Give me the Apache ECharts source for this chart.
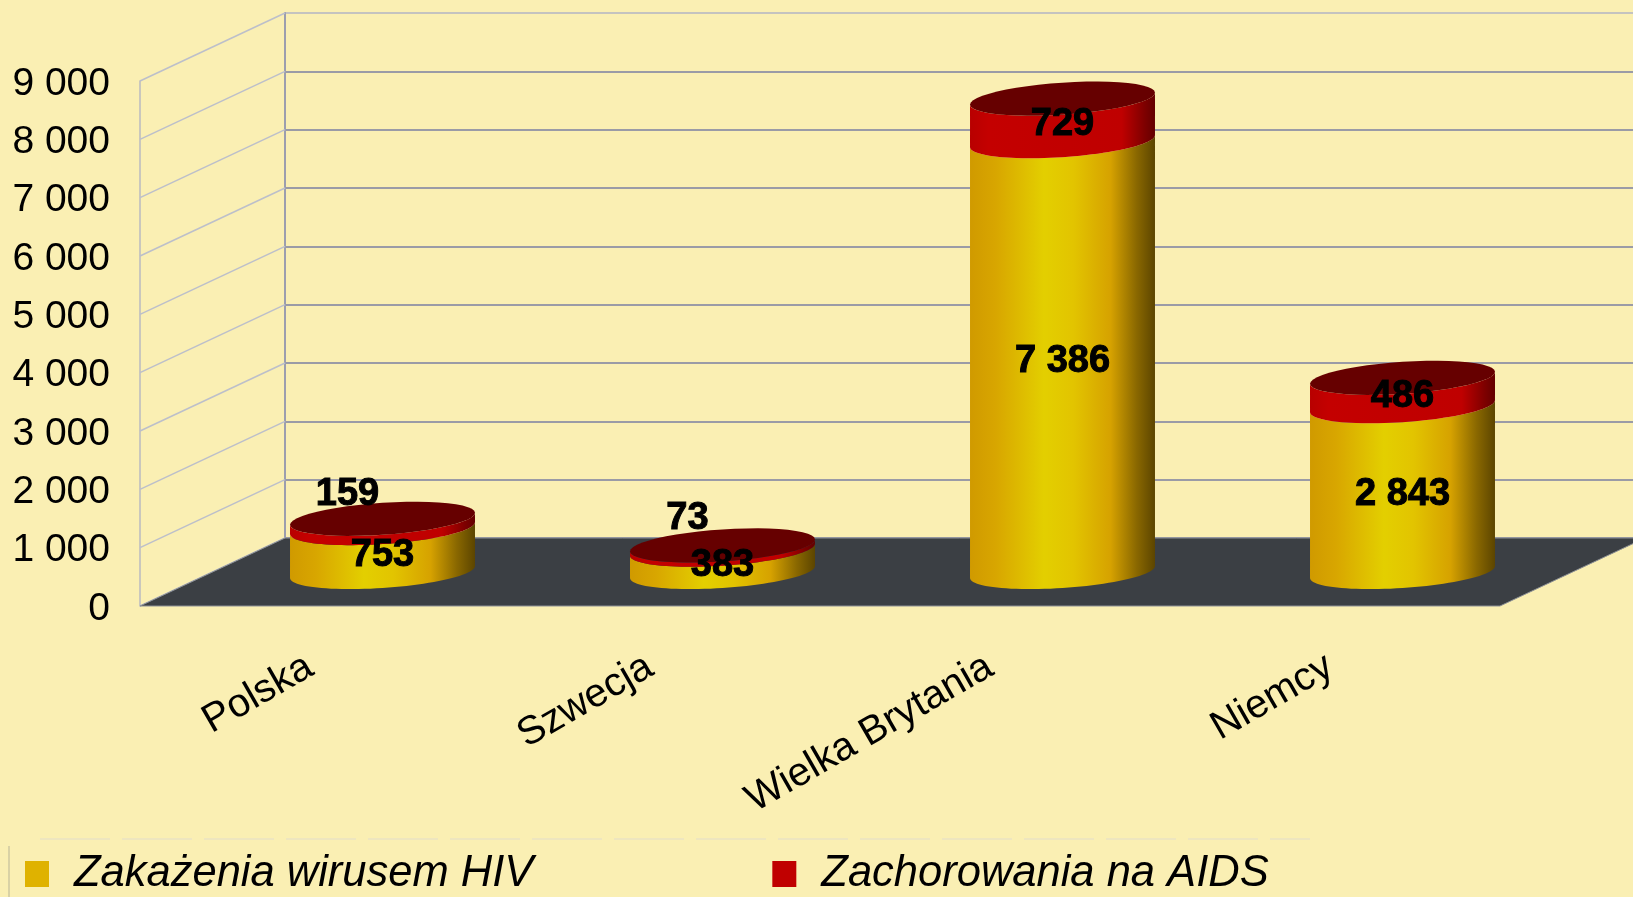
<!DOCTYPE html>
<html>
<head>
<meta charset="utf-8">
<title>HIV / AIDS</title>
<script src="https://cdn.jsdelivr.net/npm/echarts@6/dist/echarts.min.js"></script>
<style>
html, body { margin: 0; padding: 0; background: #faefb3; }
#chart { width: 1633px; height: 897px; }
</style>
</head>
<body>
<div id="chart"></div>
<script>
var categories = ['Polska', 'Szwecja', 'Wielka Brytania', 'Niemcy'];
var hivInfections = [753, 383, 7386, 2843];
var aidsCases = [159, 73, 729, 486];
var yTickValues = [0, 1000, 2000, 3000, 4000, 5000, 6000, 7000, 8000, 9000];
var yTickLabels = ['0', '1 000', '2 000', '3 000', '4 000', '5 000', '6 000', '7 000', '8 000', '9 000'];
var seriesNames = ['Zakażenia wirusem HIV', 'Zachorowania na AIDS'];

var FONT = '"Liberation Sans", Arial, sans-serif';
// przesuniecie tylnej sciany wzgledem przedniej krawedzi
var DEPTH_X = 145;
var DEPTH_Y = 68;
var BAR_SHARE = 0.544;
var CAP_B = 16;
var CAP_SKEW = 6;

var yellowSide = {
	type: 'linear', x: 0, y: 0, x2: 1, y2: 0,
	colorStops: [
		{ offset: 0, color: '#d09a00' },
		{ offset: 0.14, color: '#d8a600' },
		{ offset: 0.4, color: '#e3cf00' },
		{ offset: 0.56, color: '#e2c400' },
		{ offset: 0.76, color: '#d6a200' },
		{ offset: 0.9, color: '#8a6800' },
		{ offset: 1, color: '#5c4500' }
	]
};
var redSide = {
	type: 'linear', x: 0, y: 0, x2: 1, y2: 0,
	colorStops: [
		{ offset: 0, color: '#b80000' },
		{ offset: 0.1, color: '#c40000' },
		{ offset: 0.82, color: '#bf0000' },
		{ offset: 0.94, color: '#800000' },
		{ offset: 1, color: '#640000' }
	]
};

function formatValue(v) {
	return String(v).replace(/\B(?=(\d{3})+$)/g, ' ');
}

// luk elipsy podstawy, od t0 do t1
function arc(cx, cy, a, t0, t1) {
	var pts = [];
	for(var i = 0; i <= 48; i++) {
		var t = t0 + (t1 - t0) * i / 48;
		pts.push([cx + a * Math.cos(t), cy + CAP_B * Math.sin(t) - CAP_SKEW * Math.cos(t)]);
	}
	return pts;
}

function renderCylinder(fill, hasCap, labels) {
	return function(params, api) {
		var idx = api.value(0);
		var from = api.coord([idx, api.value(1)]);
		var to = api.coord([idx, api.value(2)]);
		var cx = from[0] + DEPTH_X / 2;
		var yFrom = from[1] - DEPTH_Y / 2;
		var yTo = to[1] - DEPTH_Y / 2;
		var a = api.size([1, 0])[0] * BAR_SHARE / 2;
		var side = arc(cx, yFrom, a, 0, Math.PI).concat(arc(cx, yTo, a, Math.PI, 0));
		var children = [{
			type: 'polygon',
			shape: { points: side },
			style: { fill: fill, stroke: null }
		}];
		if(hasCap) {
			children.push({
				type: 'polygon',
				shape: { points: arc(cx, yTo, a, 0, Math.PI * 2) },
				style: { fill: '#660000', stroke: null }
			});
		}
		var val = labels[idx];
		// male wartosci AIDS nie mieszcza sie na walcu
		var small = hasCap && val < 200;
		children.push({
			type: 'text',
			z2: 50,
			style: {
				text: formatValue(val),
				x: cx + (small ? -35 : 0),
				y: (yFrom + yTo) / 2 + (small ? -29 : 5),
				align: 'center',
				verticalAlign: 'middle',
				font: 'bold 38px ' + FONT,
				fill: '#000',
				stroke: '#000',
				lineWidth: 1
			}
		});
		return { type: 'group', children: children };
	};
}

var chart = echarts.init(document.getElementById('chart'));

chart.setOption({
	backgroundColor: '#faefb3',
	animation: false,
	grid: [
		{ left: 140, top: 81, width: 1360, height: 525 },
		{ left: 285, top: 13, width: 1360, height: 525 }
	],
	legend: {
		data: seriesNames,
		left: 25,
		top: 852,
		padding: 0,
		icon: 'rect',
		itemWidth: 24,
		itemHeight: 26,
		itemGap: 239,
		textStyle: {
			fontFamily: FONT,
			fontStyle: 'italic',
			fontSize: 43.5,
			color: '#000',
			padding: [0, 0, 0, 20]
		}
	},
	graphic: [
		// slady starej ramki pod wykresem
		{ type: 'line', silent: true, shape: { x1: 40, y1: 839, x2: 1310, y2: 839 }, style: { stroke: '#eee6bf', lineWidth: 2, lineDash: [70, 12] } },
		{ type: 'line', silent: true, shape: { x1: 9, y1: 846, x2: 9, y2: 897 }, style: { stroke: '#b9b596', lineWidth: 1 } }
	],
	xAxis: [{
		type: 'category',
		gridIndex: 0,
		data: categories,
		axisLine: { show: false },
		axisTick: { show: false },
		axisLabel: {
			interval: 0,
			rotate: 30,
			margin: 58,
			fontFamily: FONT,
			fontSize: 40,
			color: '#000'
		}
	}, {
		type: 'category',
		gridIndex: 1,
		data: categories,
		axisLine: { show: false },
		axisTick: { show: false },
		axisLabel: { show: false }
	}],
	yAxis: [{
		type: 'value',
		gridIndex: 0,
		min: 0,
		max: 9000,
		interval: 1000,
		axisLine: { show: true, lineStyle: { color: '#b9bac0', width: 1.5 } },
		axisTick: { show: false },
		splitLine: { show: false },
		axisLabel: {
			margin: 30,
			verticalAlign: 'top',
			lineHeight: 6,
			fontFamily: FONT,
			fontSize: 39,
			color: '#000',
			formatter: function(value, index) { return yTickLabels[index]; }
		}
	}, {
		type: 'value',
		gridIndex: 1,
		min: 0,
		max: 9000,
		interval: 1000,
		axisLine: { show: true, lineStyle: { color: '#9c9eae', width: 2 } },
		axisTick: { show: false },
		axisLabel: { show: false },
		splitLine: {
			show: true,
			lineStyle: {
				color: ['#9a9ba6', '#9a9ba6', '#9a9ba6', '#9a9ba6', '#9a9ba6', '#9a9ba6', '#9a9ba6', '#9a9ba6', '#9a9ba6', '#c4c3c0'],
				width: 2
			}
		}
	}],
	series: [{
		// linie na bocznej scianie
		type: 'custom',
		name: 'sciana',
		xAxisIndex: 0,
		yAxisIndex: 0,
		z: 1,
		silent: true,
		data: yTickValues.map(function(v) { return [0, v]; }),
		renderItem: function(params, api) {
			var y = api.coord([0, api.value(1)])[1];
			var x = params.coordSys.x;
			return {
				type: 'line',
				shape: { x1: x, y1: y, x2: x + DEPTH_X, y2: y - DEPTH_Y },
				style: { stroke: '#bcbfca', lineWidth: 1.5 }
			};
		}
	}, {
		// podloga
		type: 'custom',
		name: 'podloga',
		xAxisIndex: 0,
		yAxisIndex: 0,
		z: 2,
		silent: true,
		data: [[0, 0]],
		renderItem: function(params, api) {
			var c = params.coordSys;
			var y = api.coord([0, 0])[1];
			return {
				type: 'polygon',
				shape: {
					points: [
						[c.x, y],
						[c.x + c.width, y],
						[c.x + c.width + DEPTH_X, y - DEPTH_Y],
						[c.x + DEPTH_X, y - DEPTH_Y]
					]
				},
				style: { fill: '#3b3f44', stroke: '#8d9196', lineWidth: 1 }
			};
		}
	}, {
		type: 'custom',
		name: seriesNames[0],
		xAxisIndex: 0,
		yAxisIndex: 0,
		z: 3,
		itemStyle: { color: '#dfb200' },
		encode: { x: 0, y: [1, 2] },
		data: hivInfections.map(function(v, i) { return [i, 0, v]; }),
		renderItem: renderCylinder(yellowSide, false, hivInfections)
	}, {
		type: 'custom',
		name: seriesNames[1],
		xAxisIndex: 0,
		yAxisIndex: 0,
		z: 3,
		itemStyle: { color: '#c00000' },
		encode: { x: 0, y: [1, 2] },
		data: aidsCases.map(function(v, i) { return [i, hivInfections[i], hivInfections[i] + v]; }),
		renderItem: renderCylinder(redSide, true, aidsCases)
	}]
});
</script>
</body>
</html>
